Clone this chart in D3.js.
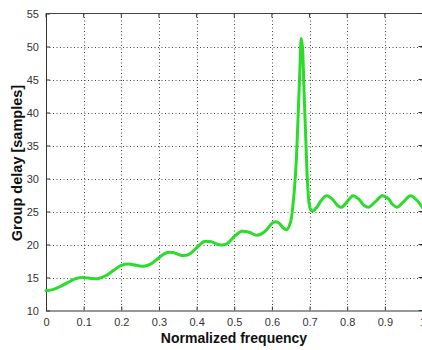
<!DOCTYPE html>
<html>
<head>
<meta charset="utf-8">
<script src="https://cdn.jsdelivr.net/npm/d3@7"></script>
<style>
  html, body { margin: 0; padding: 0; background: #fff; }
  svg { display: block; }
  .tick text { font-family: "Liberation Sans", Arial, sans-serif; font-size: 11px; fill: #333; }
  .axis-title { font-family: "Liberation Sans", Arial, sans-serif; font-size: 14px; font-weight: bold; fill: #111; }
</style>
</head>
<body>
<script>
// Group delay of the filter, sampled along the normalized frequency axis
const freq = [
  0.00, 0.02, 0.04, 0.06, 0.08, 0.10, 0.12, 0.14, 0.16, 0.18,
  0.20, 0.22, 0.24, 0.26, 0.28, 0.30, 0.32, 0.34, 0.36, 0.38,
  0.40, 0.42, 0.44, 0.46, 0.48, 0.50, 0.52, 0.54, 0.56, 0.58,
  0.60, 0.61, 0.62, 0.63, 0.64, 0.65, 0.655, 0.66, 0.665, 0.67,
  0.675, 0.678, 0.681, 0.685, 0.69, 0.695, 0.70, 0.705, 0.71, 0.72,
  0.73, 0.745, 0.76, 0.775, 0.785, 0.80, 0.815, 0.83, 0.845, 0.857,
  0.875, 0.893, 0.91, 0.92, 0.933, 0.95, 0.968, 0.985, 1.00
];
const delay = [
  13.0, 13.2, 13.7, 14.3, 14.85, 15.0, 14.85, 14.85, 15.3, 16.1,
  16.85, 17.05, 16.85, 16.7, 17.1, 18.0, 18.75, 18.75, 18.35, 18.5,
  19.5, 20.45, 20.4, 19.95, 20.1, 21.2, 22.0, 21.85, 21.4, 21.9,
  23.2, 23.45, 23.2, 22.5, 22.25, 23.5, 25.5, 28.5, 33.0, 40.0,
  47.5, 51.2, 50.0, 44.0, 36.0, 29.0, 25.8, 25.1, 25.1, 25.7,
  26.6, 27.4, 26.9, 25.9, 25.65, 26.5, 27.4, 26.9, 25.9, 25.65,
  26.5, 27.4, 26.9, 26.1, 25.65, 26.5, 27.4, 26.7, 25.6
];

const xTicks = [0, 0.1, 0.2, 0.3, 0.4, 0.5, 0.6, 0.7, 0.8, 0.9, 1];
const yTicks = [10, 15, 20, 25, 30, 35, 40, 45, 50, 55];

const W = 422, H = 350;
const plot = { left: 46, right: 422.5, top: 13.5, bottom: 310.5 };

const svg = d3.select("body").append("svg").attr("width", W).attr("height", H);

const x = d3.scaleLinear().domain([0, 1]).range([plot.left, plot.right]);
const y = d3.scaleLinear().domain([10, 55]).range([plot.bottom, plot.top]);

// dotted grid
const grid = svg.append("g").attr("stroke", "#444").attr("stroke-width", 1)
  .attr("stroke-dasharray", "1,2.5").attr("fill", "none");
grid.selectAll("line.gx").data(xTicks.slice(1, -1)).join("line")
  .attr("x1", d => Math.round(x(d)) + 0.5).attr("x2", d => Math.round(x(d)) + 0.5)
  .attr("y1", plot.top).attr("y2", plot.bottom);
grid.selectAll("line.gy").data(yTicks.slice(1, -1)).join("line")
  .attr("y1", d => Math.round(y(d)) + 0.5).attr("y2", d => Math.round(y(d)) + 0.5)
  .attr("x1", plot.left).attr("x2", plot.right);

// axes with inward ticks
const xAxis = d3.axisBottom(x).tickValues(xTicks).tickSizeInner(-4).tickSizeOuter(0)
  .tickPadding(8).tickFormat(d3.format("~g"));
const yAxis = d3.axisLeft(y).tickValues(yTicks).tickSizeInner(-4).tickSizeOuter(0)
  .tickPadding(7).tickFormat(d3.format("d"));

const gx = svg.append("g").attr("transform", `translate(0,${plot.bottom})`).call(xAxis);
const gy = svg.append("g").attr("transform", `translate(${plot.left},0)`).call(yAxis);
[gx, gy].forEach(g => {
  g.select(".domain").attr("stroke", "#333");
  g.selectAll(".tick line").attr("stroke", "#333");
  g.selectAll(".tick text").attr("fill", "#333");
});

// top frame and right-side ticks
svg.append("line").attr("x1", plot.left).attr("x2", plot.right)
  .attr("y1", plot.top).attr("y2", plot.top).attr("stroke", "#444");
svg.append("g").selectAll("line").data(xTicks).join("line")
  .attr("x1", d => x(d)).attr("x2", d => x(d))
  .attr("y1", plot.top).attr("y2", plot.top + 4).attr("stroke", "#333");
svg.append("g").selectAll("line").data(yTicks).join("line")
  .attr("x1", plot.right - 4).attr("x2", plot.right)
  .attr("y1", d => y(d)).attr("y2", d => y(d)).attr("stroke", "#333");

// curve
const pts = freq.map((f, i) => [f, delay[i]]);
const line = d3.line().x(d => x(d[0])).y(d => y(d[1])).curve(d3.curveCatmullRom.alpha(0.5));
svg.append("path").datum(pts).attr("d", line)
  .attr("fill", "none").attr("stroke", "#2bdc2b").attr("stroke-width", 3)
  .attr("stroke-linejoin", "round").attr("stroke-linecap", "round");

// axis titles
svg.append("text").attr("class", "axis-title")
  .attr("x", 234).attr("y", 343).attr("text-anchor", "middle")
  .text("Normalized frequency");
svg.append("text").attr("class", "axis-title")
  .style("font-size", "14.5px")
  .attr("transform", "translate(22,163) rotate(-90)").attr("text-anchor", "middle")
  .text("Group delay [samples]");
</script>
</body>
</html>
